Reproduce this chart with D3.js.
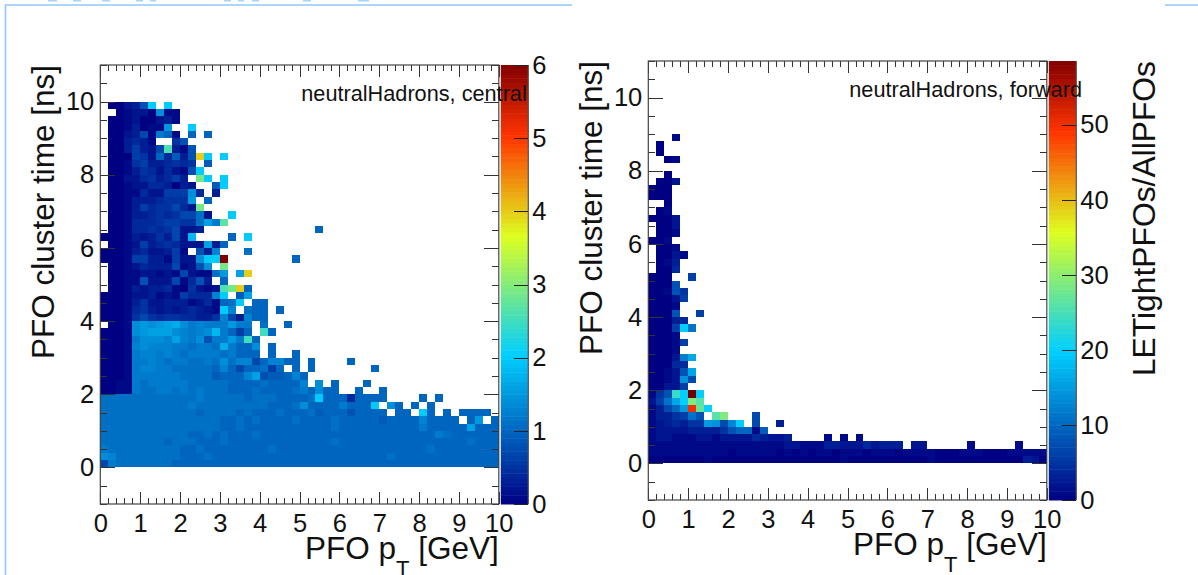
<!DOCTYPE html>
<html>
<head>
<meta charset="utf-8">
<script src="https://cdn.jsdelivr.net/npm/d3@7"></script>
<style>
    html, body { margin: 0; padding: 0; background: #fff; overflow: hidden; }
    text { font-family: "Liberation Sans", Arial, sans-serif; fill: #111; }
</style>
</head>
<body>
<svg id="chart" width="1198" height="575"></svg>
<script>
// one char per 0.2 GeV bin, "." = empty bin, first string is the top row
// char index in cellCodes times the panel zStep gives the z value
const cellCodes = "0123456789abcdefghijklmnopqrstuvwxyzABCDEFGHIJKLMNOPQRSTUVWXYZ";

const centralRows = [
    ".00238k.k",
    "..01220e11",
    ".001200231",
    ".0013011f..k",
    ".002371ca1.a.a",
    ".003431..58",
    ".0036327q318",
    ".000652a4938Ek.k",
    ".00156334545.9",
    ".00135424218k",
    ".0022453463.tk.k",
    ".00122443032..9k",
    ".0011422666e4.3",
    ".0013334555f.a",
    ".00136455742t",
    ".00133454577b2..k",
    ".00144456655bgcr",
    ".001445457223..............a",
    "00013235372i....a.k",
    ".001263454222g3a",
    "00013422361.83d...b",
    "000166331622ekkY........a",
    ".001243337128e.t",
    ".0011221217211bf.gE",
    ".0011822271483.a",
    ".00132334105212qtEa",
    "00012231216444dk.9g",
    "000135223331241abk.aa",
    "000145323234321kd.baa.a",
    "000157545544335d73daa",
    ".001efefghecdcccfcc.b..a",
    "0001efgggedcdeica6a.pa",
    "0001ceeedgdce8ccfcpa",
    "0001dedddccbccbhcaae.a",
    "0001cddcdcbccccbcaaa.a..a",
    "0001ccdcbccbbcbebdd7addaa.a....a",
    "0001cddccbbbbbada7aab6a.a.a.......a",
    "0001ccccccbbbb9aaadg899ada",
    "0011cbcccccbbbbbaaaabaaaad.e.a...a",
    "0011cbbccbcbcbbbaaabaaaabcaeaa..a..a",
    "bbbbbbbbbbbbcbbbbbabbbaaaabkaaa4aaaa....a.a",
    "bbbbbbbbbbbcbbbbbbbbbaaabeaaaacaaak.ea.a.a",
    "bbbbbbbbbbbbabbbbabaaabaaab9aaa8aaaa.aa.ka.a.aaaa",
    "bbbbbbbbbbbbbbbaabab" + "aaaabaaaabaaaaa9aaaadaaaa.af.a",
    "bbbbbbbbbbbbbbbaabaaaaaaaaaaabaaaaaaaaaacaaaaagaaa",
    "bbbbbbbbbbbaababaaabaaaaaaaaaaaaaaaaaaaaaacbaaaaaa",
    "bbbbbbbbabbbaaabaaaaaaaaaaaaabaaaaaaaaaaaaaaaabaaa",
    "cbbbbbbbbbaabaaaaaaaabaaaaaaaaaaaaaaaaaaabaaaaaaaa",
    "edbbbbbbbbaaabaaaaaaaaaaaaaaaaaaaaaabaaaaaaaaaaaaa",
    "7cbbbbbbbaaaaaaaaaaaaaaaaaaaaaaaaaaaaaaaaaaaaaaaaa"
];

const forwardRows = [
    "...1",
    ".0",
    ".0",
    "..01",
    "",
    "..0",
    ".002",
    "000",
    "000",
    "..0",
    ".01",
    "0002",
    ".002",
    ".001",
    "001",
    ".001",
    ".0021",
    ".013",
    ".004",
    "000..6",
    "0008",
    "00185",
    "00026",
    "0001",
    "0008..6",
    "00034",
    "0006kb",
    "0001",
    "00016",
    "0001",
    "0002cg",
    "00044",
    "00128g",
    "0012e7",
    "00226",
    "158okYk",
    "26bgktq",
    "137afOrk",
    "13356b8.qt...7",
    "1234355fe7dk.7..3",
    "12222333358aa19",
    "122111221222243223....1.1.1",
    "11111111111111111221113322242333.22.....1.....1",
    "11111111110111110101011011101110111100011100011111",
    "00000001000000000000000010000000000100000000000320"
];

const xTicks = [0, 1, 2, 3, 4, 5, 6, 7, 8, 9, 10];
const yTicks = [0, 2, 4, 6, 8, 10];
const centralZTicks = [0, 1, 2, 3, 4, 5, 6];
const forwardZTicks = [0, 10, 20, 30, 40, 50];
const paletteStops = [0, 0.34, 0.61, 0.84, 1];
const paletteColors = ["#000082", "#00cfff", "#deff1f", "#ff3300", "#820000"];
const clippedTitleStubs = [[48, 57], [73, 81], [102, 110], [136, 143], [150, 156], [224, 231], [238, 244], [252, 259], [303, 311], [358, 369]];

const svg = d3.select("#chart");

function drawPanel(opt) {
    const x = d3.scaleLinear().domain([0, 10]).range([opt.left, opt.left + 398.5]);
    const y = d3.scaleLinear().domain([-1, 11]).range([opt.top + 439, opt.top]);
    const z = d3.scaleLinear().domain([0, opt.zMax]).range([opt.top + 439, opt.top]);
    const color = d3.scaleLinear()
        .domain(paletteStops.map(s => s * opt.zMax))
        .range(paletteColors);
    const g = svg.append("g");

    // bins
    const cells = [];
    opt.rows.forEach((row, i) => {
        const rowIndex = opt.rows.length - 1 - i;
        row.split("").forEach((c, col) => {
            if (c !== ".") {
                cells.push({ col: col, row: rowIndex, value: cellCodes.indexOf(c) * opt.zStep });
            }
        });
    });
    g.selectAll("rect.cell")
        .data(cells)
        .enter()
        .append("rect")
        .attr("class", "cell")
        .attr("x", d => x(d.col * 0.2))
        .attr("y", d => y((d.row + 1) * 0.2))
        .attr("width", d => x((d.col + 1) * 0.2) - x(d.col * 0.2))
        .attr("height", d => y(d.row * 0.2) - y((d.row + 1) * 0.2))
        .attr("fill", d => color(d.value))
        .attr("shape-rendering", "crispEdges");

    // palette
    const bands = d3.range(100);
    g.selectAll("rect.band")
        .data(bands)
        .enter()
        .append("rect")
        .attr("class", "band")
        .attr("x", opt.left + 400.5)
        .attr("y", d => z((d + 1) / 100 * opt.zMax))
        .attr("width", 27.5)
        .attr("height", d => z(d / 100 * opt.zMax) - z((d + 1) / 100 * opt.zMax) + 0.5)
        .attr("fill", d => color((d + 0.5) / 100 * opt.zMax));
    g.append("line")
        .attr("x1", opt.left + 428)
        .attr("x2", opt.left + 428)
        .attr("y1", opt.top)
        .attr("y2", opt.top + 439)
        .attr("stroke", "#555")
        .attr("stroke-width", 1.2);
    const zAxis = d3.axisRight(z)
        .tickValues(opt.zTicks)
        .tickSize(-14)
        .tickPadding(4)
        .tickFormat(d3.format("d"));
    g.append("g")
        .attr("transform", `translate(${opt.left + 428},0)`)
        .call(zAxis)
        .call(a => a.select(".domain").remove())
        .call(a => a.selectAll("line").attr("stroke", "#222").attr("shape-rendering", "crispEdges"))
        .call(a => a.selectAll("text").attr("font-size", 25.5).attr("font-family", "Liberation Sans").attr("fill", "#111"));

    // ticks on all four sides
    const xMinor = d3.range(0, 51).map(d => d * 0.2).filter(d => Math.abs(d - Math.round(d)) > 0.01);
    const yMinor = d3.range(-2, 23).map(d => d * 0.5).filter(d => d % 2 !== 0);
    const addAxis = (axis, tx, ty, keepLabels) => {
        const a = g.append("g")
            .attr("transform", `translate(${tx},${ty})`)
            .call(axis);
        a.select(".domain").remove();
        a.selectAll("line").attr("stroke", "#333").attr("shape-rendering", "crispEdges");
        if (keepLabels) {
            a.selectAll("text")
                .attr("font-size", 25.5)
                .attr("font-family", "Liberation Sans")
                .attr("fill", "#111");
        } else {
            a.selectAll("text").remove();
        }
        return a;
    };
    const bottomY = opt.top + 439;
    addAxis(d3.axisBottom(x).tickValues(xTicks).tickSize(-12).tickPadding(10).tickFormat(d3.format("d")), 0, bottomY, true);
    addAxis(d3.axisBottom(x).tickValues(xMinor).tickSize(-6), 0, bottomY, false);
    addAxis(d3.axisTop(x).tickValues(xTicks).tickSize(-12), 0, opt.top, false);
    addAxis(d3.axisTop(x).tickValues(xMinor).tickSize(-6), 0, opt.top, false);
    addAxis(d3.axisLeft(y).tickValues(yTicks).tickSize(-15).tickPadding(6).tickFormat(d3.format("d")), opt.left, 0, true);
    addAxis(d3.axisLeft(y).tickValues(yMinor).tickSize(-7), opt.left, 0, false);
    addAxis(d3.axisRight(y).tickValues(yTicks).tickSize(-15), opt.left + 398.5, 0, false);
    addAxis(d3.axisRight(y).tickValues(yMinor).tickSize(-7), opt.left + 398.5, 0, false);

    g.append("rect")
        .attr("x", opt.left)
        .attr("y", opt.top)
        .attr("width", 398.5)
        .attr("height", 439)
        .attr("fill", "none")
        .attr("stroke", "#444")
        .attr("stroke-width", 1.2);

    g.append("text")
        .attr("x", opt.left + opt.noteDx)
        .attr("y", opt.top + 36)
        .attr("font-size", 21.7)
        .text(opt.note);

    const xTitle = g.append("text")
        .attr("x", opt.left + 398.5)
        .attr("y", bottomY + 54.5)
        .attr("text-anchor", "end")
        .attr("font-size", 31.5);
    xTitle.append("tspan").text("PFO p");
    xTitle.append("tspan").attr("dy", 17).attr("font-size", 22).text("T");
    xTitle.append("tspan").attr("dy", -17).text(" [GeV]");

    g.append("text")
        .attr("transform", `translate(${opt.left - 46},${opt.top}) rotate(-90)`)
        .attr("text-anchor", "end")
        .attr("font-size", 31.5)
        .text("PFO cluster time [ns]");
}

drawPanel({
    rows: centralRows,
    left: 100.3,
    top: 65,
    zMax: 6,
    zStep: 0.1,
    zTicks: centralZTicks,
    note: "neutralHadrons, central",
    noteDx: 201
});

drawPanel({
    rows: forwardRows,
    left: 648.3,
    top: 61,
    zMax: 58.5,
    zStep: 1,
    zTicks: forwardZTicks,
    note: "neutralHadrons, forward",
    noteDx: 201
});

svg.append("text")
    .attr("transform", "translate(1154.5,61) rotate(-90)")
    .attr("text-anchor", "end")
    .attr("font-size", 31.8)
    .text("LETightPFOs/AllPFOs");

// slide border around the plots, the slide title above it is cut off by the crop
const border = svg.append("g").attr("stroke", "#92c8fb").attr("stroke-width", 1.6).attr("fill", "none");
border.append("path").attr("d", "M572,5H5.5V575");
border.append("path").attr("d", "M1165,5H1198");
svg.append("g")
    .selectAll("rect")
    .data(clippedTitleStubs)
    .enter()
    .append("rect")
    .attr("x", d => d[0])
    .attr("y", 0)
    .attr("width", d => d[1] - d[0])
    .attr("height", 1.5)
    .attr("fill", "#a8d4fc");
</script>
</body>
</html>
